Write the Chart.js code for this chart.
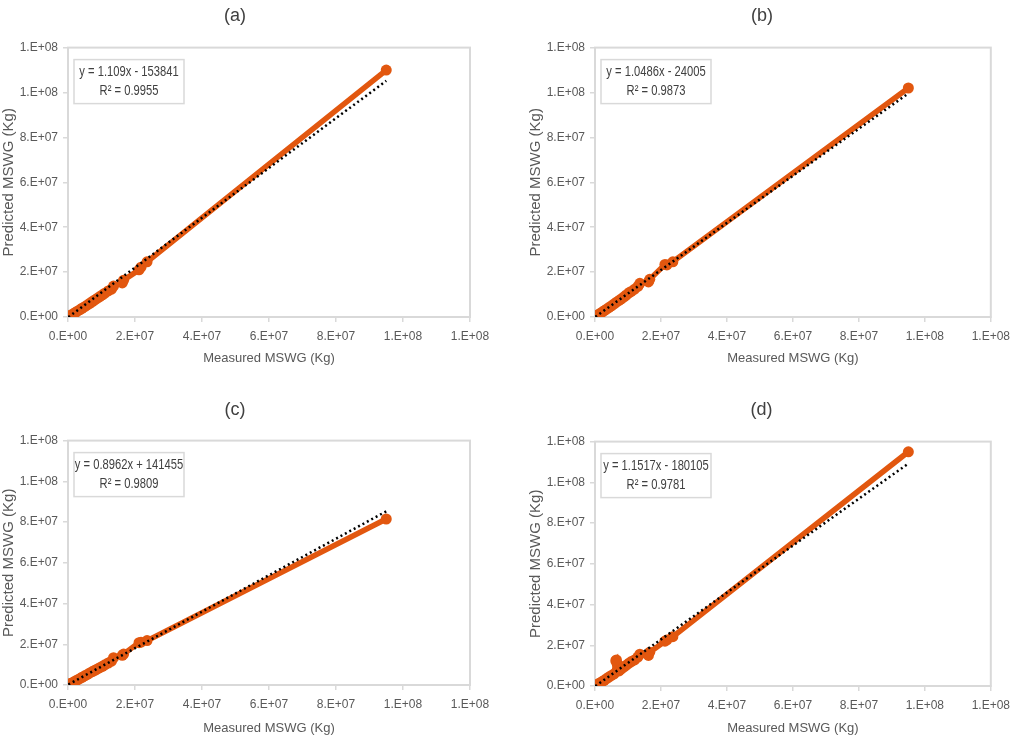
<!DOCTYPE html>
<html lang="en">
<head>
<meta charset="utf-8">
<script src="https://cdn.jsdelivr.net/npm/chart.js@4.4.1/dist/chart.umd.min.js"></script>
<style>
    body { margin: 0; background: #fff; width: 1017px; height: 744px; overflow: hidden; }
    .panel { position: absolute; }
</style>
</head>
<body>
<div class="panel" style="left:0;top:0;width:508px;height:372px"><canvas id="chartA"></canvas></div>
<div class="panel" style="left:527px;top:0;width:490px;height:372px"><canvas id="chartB"></canvas></div>
<div class="panel" style="left:0;top:388px;width:508px;height:356px"><canvas id="chartC"></canvas></div>
<div class="panel" style="left:527px;top:388px;width:490px;height:356px"><canvas id="chartD"></canvas></div>

<script>
    // values in millions of kg
    const measuredA = [0.1, 0.5, 1.0, 1.6, 2.2, 2.8, 3.5, 4.2, 5.0, 5.8, 6.5, 7.3, 8.0, 8.8, 9.5, 10.3, 11.0, 12.0, 13.0, 13.6, 16.2, 16.6, 21.2, 21.8, 23.6, 95.0]
    const predictedA = [0.1, 0.4, 0.9, 1.4, 2.0, 2.6, 3.2, 3.9, 4.6, 5.4, 6.1, 6.9, 7.6, 8.4, 9.1, 9.9, 10.6, 11.6, 12.4, 13.8, 15.2, 16.4, 21.0, 22.2, 24.6, 110.0]

    const measuredB = [0.1, 0.5, 1.0, 1.6, 2.2, 2.8, 3.5, 4.2, 5.0, 5.8, 6.5, 7.3, 8.0, 8.8, 9.5, 10.3, 11.0, 12.0, 13.0, 13.6, 16.2, 16.6, 21.2, 21.8, 23.6, 95.0]
    const predictedB = [0.1, 0.5, 1.0, 1.6, 2.2, 2.8, 3.5, 4.2, 5.0, 5.8, 6.6, 7.4, 8.1, 9.0, 9.8, 10.8, 11.4, 12.4, 13.6, 15.0, 15.6, 16.8, 23.4, 23.2, 24.6, 102.0]

    const measuredC = [0.1, 0.5, 1.0, 1.6, 2.2, 2.8, 3.5, 4.2, 5.0, 5.8, 6.5, 7.3, 8.0, 8.8, 9.5, 10.3, 11.0, 12.0, 13.0, 13.6, 16.2, 16.6, 21.2, 21.8, 23.6, 95.0]
    const predictedC = [0.1, 0.5, 0.9, 1.4, 2.0, 2.5, 3.1, 3.8, 4.5, 5.2, 5.9, 6.6, 7.2, 7.9, 8.5, 9.2, 9.9, 10.8, 11.7, 13.4, 14.6, 15.2, 20.8, 21.0, 21.8, 81.5]

    const measuredD = [0.1, 0.5, 1.0, 1.6, 2.2, 2.8, 3.5, 4.2, 5.0, 5.8, 6.3, 6.5, 6.7, 7.3, 8.0, 8.8, 9.5, 10.3, 11.0, 12.0, 13.0, 13.6, 16.2, 16.6, 21.2, 21.8, 23.6, 95.0]
    const predictedD = [0.1, 0.5, 1.0, 1.6, 2.2, 2.8, 3.6, 4.4, 5.2, 6.0, 12.4, 12.8, 11.0, 7.4, 8.4, 9.4, 10.2, 11.2, 12.0, 12.8, 14.2, 15.6, 15.0, 16.6, 22.0, 22.6, 24.2, 115.0]

    // linear trendlines as printed in each panel
    const slopes = [1.109, 1.0486, 0.8962, 1.1517]
    const intercepts = [-153841, -24005, 141455, -180105]
    const r2 = ['0.9955', '0.9873', '0.9809', '0.9781']
    const panelTitles = ['(a)', '(b)', '(c)', '(d)']
    const axisTicks = [0, 2e7, 4e7, 6e7, 8e7, 1e8, 1.2e8]

    const FONT = "'Liberation Sans', Arial, sans-serif"
    const ORANGE = '#e2570f'
    const GREY = '#d9d9d9'
    const TEXT = '#595959'

    function excelSci(v) {
        if (v === 0) return '0.E+00'
        let e = Math.floor(Math.log10(v))
        let m = Math.round(v / Math.pow(10, e))
        return m + '.E+' + String(e).padStart(2, '0')
    }

    const plotFrame = {
        id: 'plotFrame',
        beforeDatasetsDraw(chart) {
            const a = chart.chartArea, c = chart.ctx
            c.save()
            c.strokeStyle = GREY
            c.lineWidth = 2
            c.strokeRect(a.left, a.top, a.right - a.left, a.bottom - a.top)
            c.restore()
        }
    }

    // equation box, narrow lettering like the Excel label
    const eqBox = {
        id: 'eqBox',
        afterDraw(chart, args, opts) {
            const a = chart.chartArea, c = chart.ctx
            const x = a.left + 6, y = a.top + 12, w = 110, h = 44
            c.save()
            c.fillStyle = '#fff'
            c.fillRect(x, y, w, h)
            c.strokeStyle = GREY
            c.lineWidth = 1.5
            c.strokeRect(x, y, w, h)
            c.fillStyle = '#404040'
            c.font = '14px ' + FONT
            c.textAlign = 'center'
            c.textBaseline = 'middle'
            opts.lines.forEach((t, k) => {
                c.save()
                c.translate(x + w / 2, y + 13 + k * 19)
                c.scale(0.8, 1)
                c.fillText(t, 0, 0)
                c.restore()
            })
            c.restore()
        }
    }

    function eqText(i) {
        let b = intercepts[i]
        let sign = b < 0 ? ' - ' : ' + '
        return ['y = ' + slopes[i] + 'x' + sign + Math.abs(b), 'R\u00b2 = ' + r2[i]]
    }

    function makeChart(id, i, measured, predicted, g) {
        let pts = measured.map((m, k) => ({x: m * 1e6, y: predicted[k] * 1e6}))
        let x0 = measured[0] * 1e6, x1 = measured[measured.length - 1] * 1e6
        let trend = [
            {x: x0, y: slopes[i] * x0 + intercepts[i]},
            {x: x1, y: slopes[i] * x1 + intercepts[i]}
        ]
        let axis = (titleText, isX) => ({
            type: 'linear',
            min: 0,
            max: 1.2e8,
            afterBuildTicks: s => { s.ticks = axisTicks.map(v => ({value: v})) },
            afterFit: s => { if (isX) s.height = g.xh; else s.width = 68 },
            ticks: {
                color: TEXT,
                font: {family: FONT, size: 12},
                padding: isX ? 7 : 5,
                maxRotation: 0,
                callback: v => excelSci(v)
            },
            grid: {display: true, drawOnChartArea: false, drawTicks: true, tickLength: 5, color: GREY, lineWidth: 1.5},
            border: {display: true, color: GREY, width: 2},
            title: {
                display: true,
                text: titleText,
                color: TEXT,
                font: {family: FONT, size: isX ? 13 : 15},
                padding: isX ? {top: 4, bottom: g.xtb} : {top: 0, bottom: 0}
            }
        })
        return new Chart(document.getElementById(id), {
            type: 'scatter',
            data: {
                datasets: [{
                    data: trend,
                    showLine: true,
                    borderColor: '#000',
                    borderWidth: 2.5,
                    borderDash: [2, 3],
                    pointRadius: 0
                }, {
                    data: pts,
                    showLine: true,
                    borderColor: ORANGE,
                    backgroundColor: ORANGE,
                    borderWidth: 5.5,
                    pointRadius: 5.5,
                    pointBorderWidth: 0
                }]
            },
            options: {
                responsive: true,
                maintainAspectRatio: false,
                animation: false,
                layout: {padding: {top: g.pt, right: g.pr, left: 0, bottom: 0}},
                plugins: {
                    legend: {display: false},
                    tooltip: {enabled: false},
                    title: {
                        display: true,
                        text: panelTitles[i],
                        color: '#404040',
                        font: {family: FONT, size: 18, weight: 'normal'},
                        padding: {top: 0, bottom: g.tb}
                    },
                    eqBox: {lines: eqText(i)}
                },
                scales: {
                    x: axis('Measured MSWG (Kg)', true),
                    y: axis('Predicted MSWG (Kg)', false)
                }
            },
            plugins: [plotFrame, eqBox]
        })
    }

    makeChart('chartA', 0, measuredA, predictedA, {pt: 5, tb: 21, pr: 38, xh: 55, xtb: 6})
    makeChart('chartB', 1, measuredB, predictedB, {pt: 5, tb: 21, pr: 20, xh: 55, xtb: 6})
    makeChart('chartC', 2, measuredC, predictedC, {pt: 11, tb: 20, pr: 38, xh: 59, xtb: 8})
    makeChart('chartD', 3, measuredD, predictedD, {pt: 11, tb: 21, pr: 21, xh: 58, xtb: 8})
</script>
</body>
</html>
